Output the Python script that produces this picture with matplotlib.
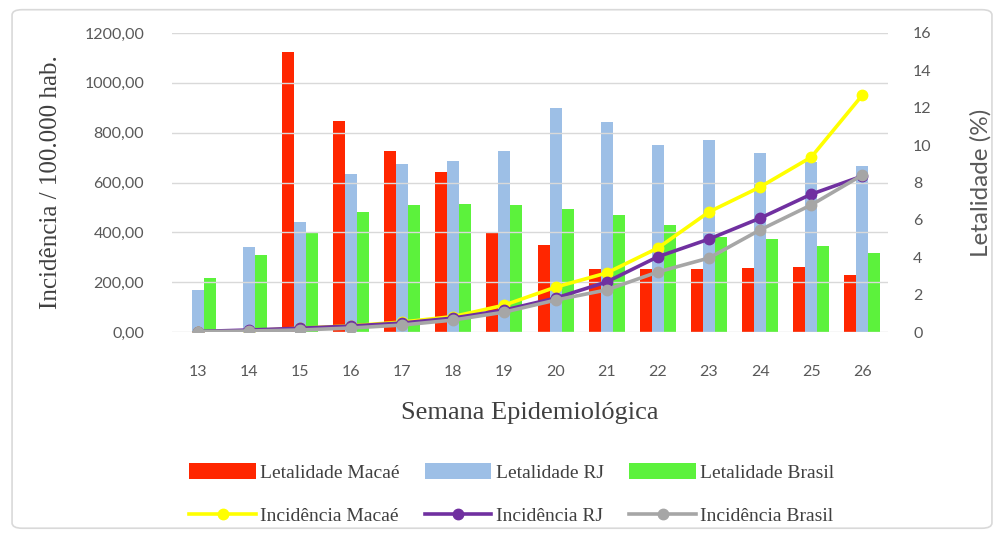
import numpy as np
import matplotlib
matplotlib.use("Agg")
from matplotlib import pyplot as plt
from matplotlib.patches import FancyBboxPatch

# data
semanas = [13, 14, 15, 16, 17, 18, 19, 20, 21, 22, 23, 24, 25, 26]

letal_macae = [0, 0, 15.0, 11.3, 9.7, 8.55, 5.35, 4.65, 3.35, 3.35, 3.35, 3.45, 3.5, 3.05]
letal_rj = [2.25, 4.55, 5.9, 8.45, 9.0, 9.15, 9.7, 12.0, 11.25, 10.0, 10.3, 9.6, 9.1, 8.9]
letal_brasil = [2.9, 4.1, 5.3, 6.4, 6.8, 6.85, 6.8, 6.6, 6.25, 5.7, 5.1, 4.95, 4.6, 4.25]

inc_macae = [0, 5, 15, 25, 40, 62, 108, 180, 237, 337, 482, 582, 702, 951]
inc_rj = [2, 8, 15, 24, 36, 56, 88, 136, 201, 302, 373, 457, 553, 626]
inc_brasil = [1, 4, 8, 16, 28, 48, 80, 128, 169, 241, 297, 410, 510, 630]

yticks_left = [0, 200, 400, 600, 800, 1000, 1200]
yticks_right = [0, 2, 4, 6, 8, 10, 12, 14, 16]

grey_txt = "#595959"
serif = ["Liberation Serif", "DejaVu Serif"]
sans = ["Lato", "DejaVu Sans"]

fig = plt.figure(figsize=(10.04, 5.39), dpi=100)
fig.patch.set_facecolor("white")

# light frame round the chart
frame = FancyBboxPatch((0.012, 0.02), 0.976, 0.962, boxstyle="round,pad=0,rounding_size=0.01",
                       transform=fig.transFigure, fill=False, edgecolor="#d9d9d9", lw=1.2)
fig.patches.append(frame)

ax = fig.add_axes([172 / 1004, 1 - 332 / 539, (888 - 172) / 1004, (332 - 33) / 539])
ax2 = ax.twinx()
ax.set_zorder(2)
ax2.set_zorder(1)
ax.patch.set_visible(False)

x = np.array(semanas)
w = 0.235
ax2.bar(x - w, letal_macae, w, color="#ff2600", label="Letalidade Macaé")
ax2.bar(x, letal_rj, w, color="#9dbfe6", label="Letalidade RJ")
ax2.bar(x + w, letal_brasil, w, color="#5cf23c", label="Letalidade Brasil")

ax.plot(x, inc_macae, color="#ffff00", lw=2.6, marker="o", ms=7.5, label="Incidência Macaé")
ax.plot(x, inc_rj, color="#7030a0", lw=2.6, marker="o", ms=7.5, label="Incidência RJ")
ax.plot(x, inc_brasil, color="#a6a6a6", lw=2.6, marker="o", ms=7.5, label="Incidência Brasil")

ax.set_xlim(12.5, 26.5)
ax.set_ylim(0, 1200)
ax2.set_ylim(0, 16)

ax.set_yticks(yticks_left)
ax.set_yticklabels([f"{v:.2f}".replace(".", ",") for v in yticks_left], fontfamily=sans,
                   fontsize=11.5, color=grey_txt)
ax2.set_yticks(yticks_right)
ax2.set_yticklabels([str(v) for v in yticks_right], fontfamily=sans, fontsize=11.5, color=grey_txt)
ax.set_xticks(semanas)
ax.set_xticklabels([str(s) for s in semanas], fontfamily=sans, fontsize=11.5, color=grey_txt)

ax.grid(axis="y", color="#d9d9d9", lw=1)
for a in (ax, ax2):
    for s in a.spines.values():
        s.set_visible(False)
    a.tick_params(length=0)
ax.tick_params(axis="y", pad=20)
ax.tick_params(axis="x", pad=24)
ax2.tick_params(axis="y", pad=18)

ax.set_ylabel("Incidência / 100.000 hab.", fontfamily=serif, fontsize=18, color="#404040", labelpad=16)
ax2.set_ylabel("Letalidade (%)", fontfamily=sans, fontsize=17.5, color=grey_txt, rotation=90, labelpad=28)
ax.set_xlabel("Semana Epidemiológica", fontfamily=serif, fontsize=19, color="#404040", labelpad=16)

h1, l1 = ax2.get_legend_handles_labels()
h2, l2 = ax.get_legend_handles_labels()
handles = [h1[0], h2[0], h1[1], h2[1], h1[2], h2[2]]
labels = [l1[0], l2[0], l1[1], l2[1], l1[2], l2[2]]
fig.legend(handles, labels, ncol=3, loc="center", bbox_to_anchor=(0.51, 0.083), frameon=False,
           prop={"family": serif, "size": 14}, labelcolor="#404040", handlelength=3.4,
           handleheight=0.9, handletextpad=0.25, columnspacing=1.3, labelspacing=1.25)

fig.savefig("out.png", dpi=100)
